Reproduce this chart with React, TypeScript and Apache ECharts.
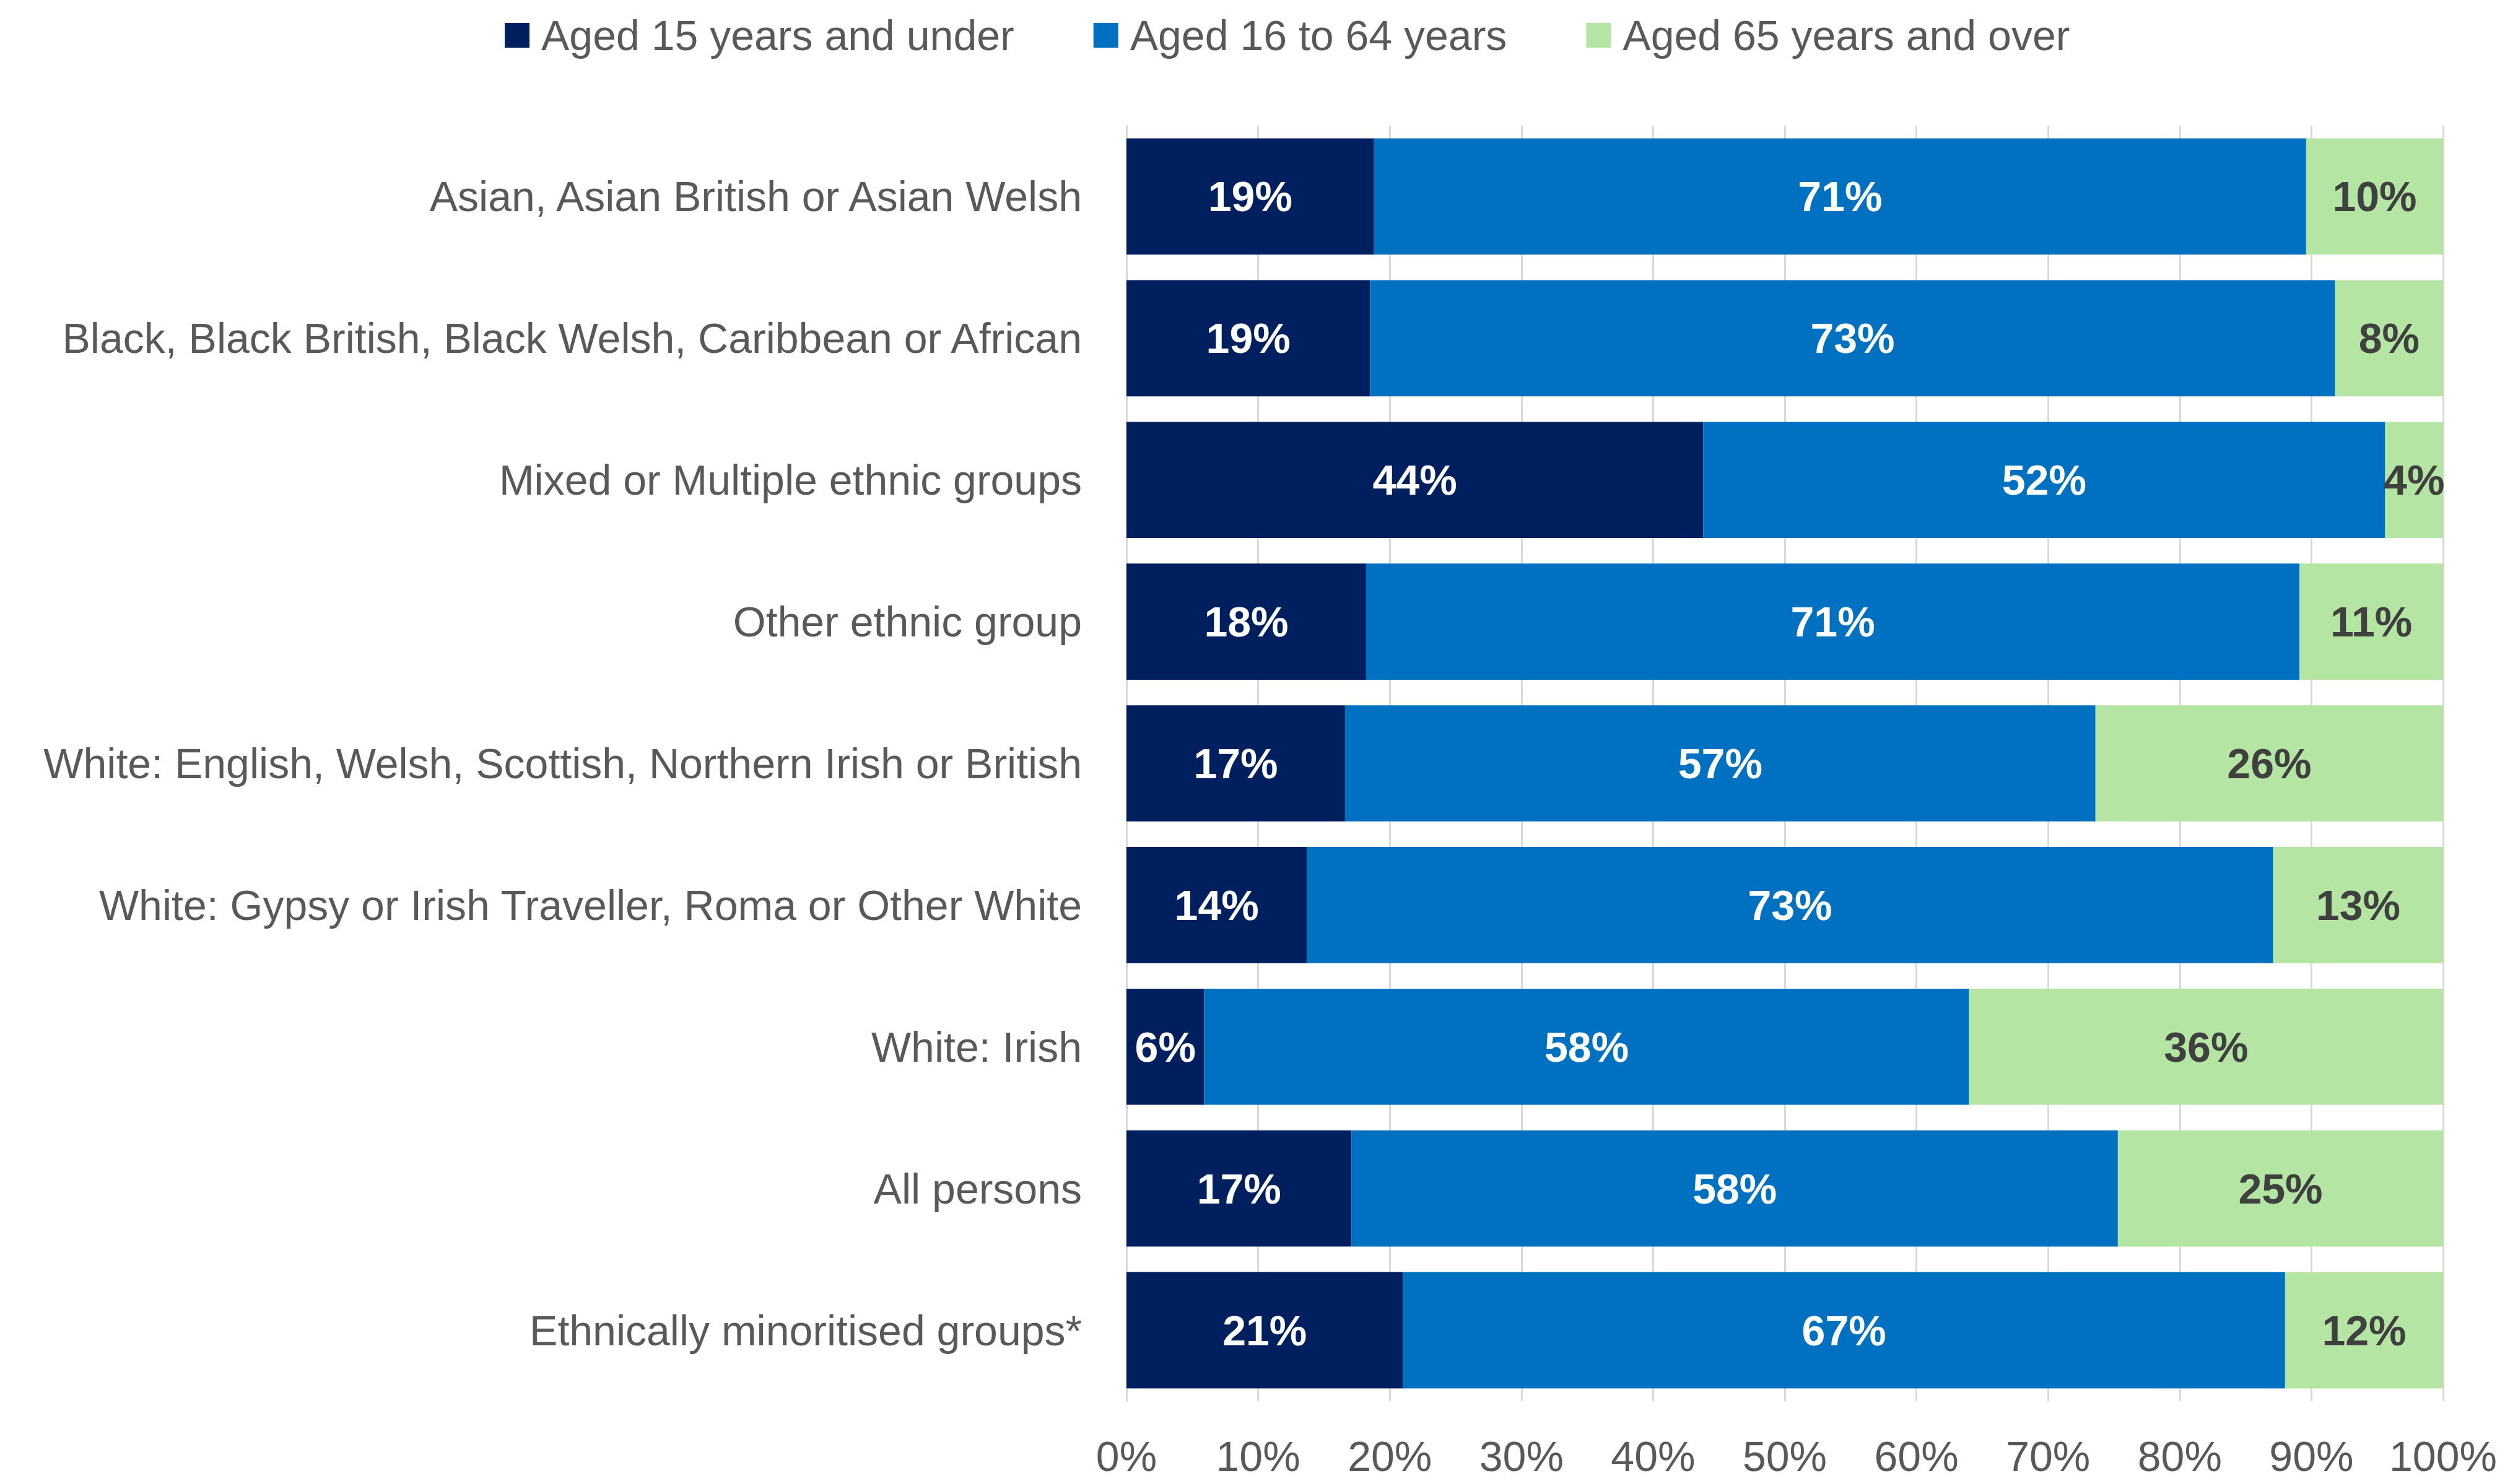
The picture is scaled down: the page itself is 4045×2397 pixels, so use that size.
import React, { useEffect, useRef } from "react";
import * as echarts from "echarts";

const categories = [
  "Asian, Asian British or Asian Welsh",
  "Black, Black British, Black Welsh, Caribbean or African",
  "Mixed or Multiple ethnic groups",
  "Other ethnic group",
  "White: English, Welsh, Scottish, Northern Irish or British",
  "White: Gypsy or Irish Traveller, Roma or Other White",
  "White: Irish",
  "All persons",
  "Ethnically minoritised groups*",
];

const seriesNames = ["Aged 15 years and under", "Aged 16 to 64 years", "Aged 65 years and over"];

const aged15Under = [18.8, 18.5, 43.8, 18.2, 16.6, 13.7, 5.9, 17.1, 21.0];
const aged16To64 = [70.8, 73.3, 51.8, 70.9, 57.0, 73.4, 58.1, 58.2, 67.0];
const aged65Over = [10.4, 8.2, 4.4, 10.9, 26.4, 12.9, 36.0, 24.7, 12.0];

const xTicks = [0, 10, 20, 30, 40, 50, 60, 70, 80, 90, 100];

const colors = ["#001F5F", "#0070C0", "#B4E5A2"];
const labelColors = ["#FFFFFF", "#FFFFFF", "#404040"];

const FONT = "'Liberation Sans', Arial, sans-serif";

export default function App() {
  const ref = useRef<HTMLDivElement>(null);

  useEffect(() => {
    if (!ref.current) return;
    const chart = echarts.init(ref.current, undefined, { renderer: "svg" });
    const dataSets = [aged15Under, aged16To64, aged65Over];
    const option: any = {
      animation: false,
      backgroundColor: "#ffffff",
      textStyle: { fontFamily: FONT },
      legend: {
        left: 810,
        top: 18,
        itemWidth: 40,
        itemHeight: 40,
        itemGap: 128,
        icon: "rect",
        textStyle: { fontSize: 68, color: "#595959", fontFamily: FONT, padding: [0, 0, 0, 14] },
        data: seriesNames,
      },
      grid: { left: 1819, right: 100, top: 203, bottom: 134, containLabel: false },
      xAxis: {
        type: "value",
        min: 0,
        max: 100,
        interval: 10,
        axisLine: { show: false },
        axisTick: { show: false },
        splitLine: { show: true, lineStyle: { color: "#D9D9D9", width: 3 } },
        axisLabel: {
          fontSize: 68,
          color: "#595959",
          fontFamily: FONT,
          margin: 55,
          formatter: (v: number) => (xTicks.includes(v) ? `${v}%` : ""),
        },
      },
      yAxis: {
        type: "category",
        inverse: true,
        data: categories,
        axisLine: { show: true, lineStyle: { color: "#D9D9D9", width: 3 } },
        axisTick: { show: false },
        axisLabel: { fontSize: 68, color: "#595959", fontFamily: FONT, margin: 72 },
      },
      series: dataSets.map((d, i) => ({
        name: seriesNames[i],
        type: "bar",
        stack: "total",
        barCategoryGap: "18%",
        itemStyle: { color: colors[i] },
        label: {
          show: true,
          position: "inside",
          fontSize: 68,
          fontWeight: "bold",
          fontFamily: FONT,
          color: labelColors[i],
          formatter: (p: any) => `${Math.round(p.value)}%`,
        },
        data: d,
      })),
    };
    chart.setOption(option);
    return () => chart.dispose();
  }, []);

  return (
    <div
      ref={ref}
      style={{ position: "absolute", left: 0, top: 0, width: 4045, height: 2397, background: "#fff" }}
    />
  );
}
